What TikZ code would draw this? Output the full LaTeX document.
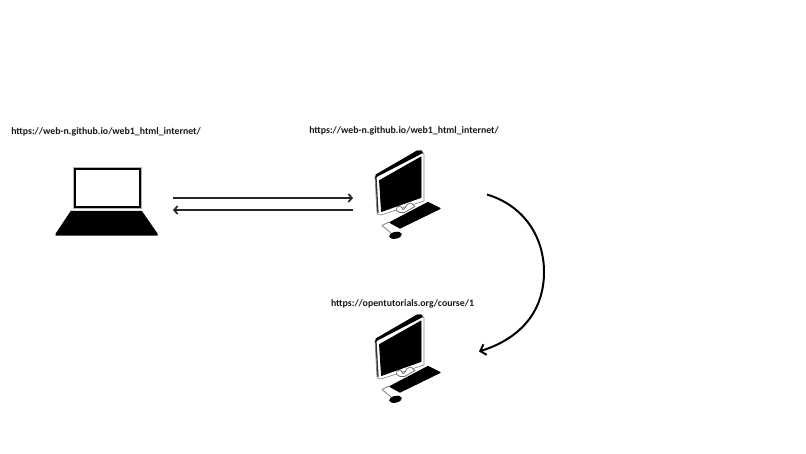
\documentclass[tikz,border=0pt]{standalone}
\usepackage{fontspec}
\setmainfont{Carlito}
\usetikzlibrary{arrows.meta}
\tikzset{
  urltext/.style={font=\bfseries\fontsize{9.82}{11}\selectfont, text=black!90, inner sep=0pt, anchor=center},
  conn/.style={draw=black!85, line width=1.5pt, -{Straight Barb[length=3.5pt,width=8pt,line width=1.7pt]}},
  curvearrow/.style={draw=black, line width=2pt, -{Straight Barb[length=5pt,width=11pt,line width=2pt]}},
  computer/.pic={
    % bezel
    \filldraw[fill=white, draw=black!45, line width=0.7pt, line join=round] (375,177) -- (417,151) -- (421,150.5) -- (424,154) -- (424,201) -- (381,215) -- (377,214) -- cycle;
    % top band and left edge
    \fill[black] (375,179) -- (375.7,174.5) -- (417,150.5) -- (421.5,150.5) -- (423,153) -- (377.5,176.5) -- cycle;
    \draw[black!80, line width=1.3pt] (376,178) -- (378,213);
    % screen
    \filldraw[black, line width=0.8pt, line join=round] (379.5,180.5) -- (421,157) -- (421,197.5) -- (381.5,211.5) -- cycle;
    % stand
    \filldraw[fill=white, draw=black!60, line width=0.7pt, line join=round] (397,207) -- (396.5,210.5) -- (400,212.5) -- (404.5,212.5) -- (415,206.5) -- (411,203) -- (407,204.5) -- (405,208) -- (403,209.5) -- (400.5,206) -- cycle;
    % cable
    \draw[black!50, line width=0.8pt, line join=round] (389,222) -- (382,225.5) -- (391,233);
    % keyboard
    \filldraw[black, line width=1.2pt, line join=round] (428,202.5) -- (440,208.5) -- (400,228) -- (390,222.5) -- cycle;
    % mouse
    \fill[black, rotate around={12:(395.5,235.3)}] (395.5,235.3) ellipse (6.5 and 3.4);
  }
}
\begin{document}
\begin{tikzpicture}[x=1pt,y=-1pt]
\useasboundingbox (0,0) rectangle (806,453);
\fill[white] (0,0) rectangle (806,453);

% laptop
\fill[black] (73.5,167) rectangle (141,208.5);
\fill[white] (76,169.5) rectangle (138.5,206);
\draw[gray!60, line width=0.4pt] (73.5,167) rectangle (141,208.5);
\fill[black] (70.8,210.8) -- (141.8,210.8) -- (157.5,233.5) -- (157.5,235.5) -- (55.7,235.5) -- (55.7,233.5) -- cycle;

% computers
\pic at (0,0) {computer};
\pic at (0,164) {computer};

% labels
\node[urltext] (urlA) at (106,132) {https://web-n.github.io/web1\_html\_internet/};
\node[urltext] (urlB) at (404,131) {https://web-n.github.io/web1\_html\_internet/};
\node[urltext] (urlC) at (402.5,304) {https://opentutorials.org/course/1};

% connector end points
\coordinate (laptopOut) at (173,198);
\coordinate (serverIn) at (353,198);
\coordinate (serverOut) at (353,210);
\coordinate (laptopIn) at (173,210);
\coordinate (serverSide) at (487,194.5);
\coordinate (curveMid) at (544,272);
\coordinate (otherSide) at (479,351.5);

\draw[conn] (laptopOut) -- (serverIn);
\draw[conn] (serverOut) -- (laptopIn);
\draw[curvearrow] (serverSide) .. controls (525,206) and (544,238) .. (curveMid) .. controls (544,310) and (522,338) .. (otherSide);
\end{tikzpicture}
\end{document}
